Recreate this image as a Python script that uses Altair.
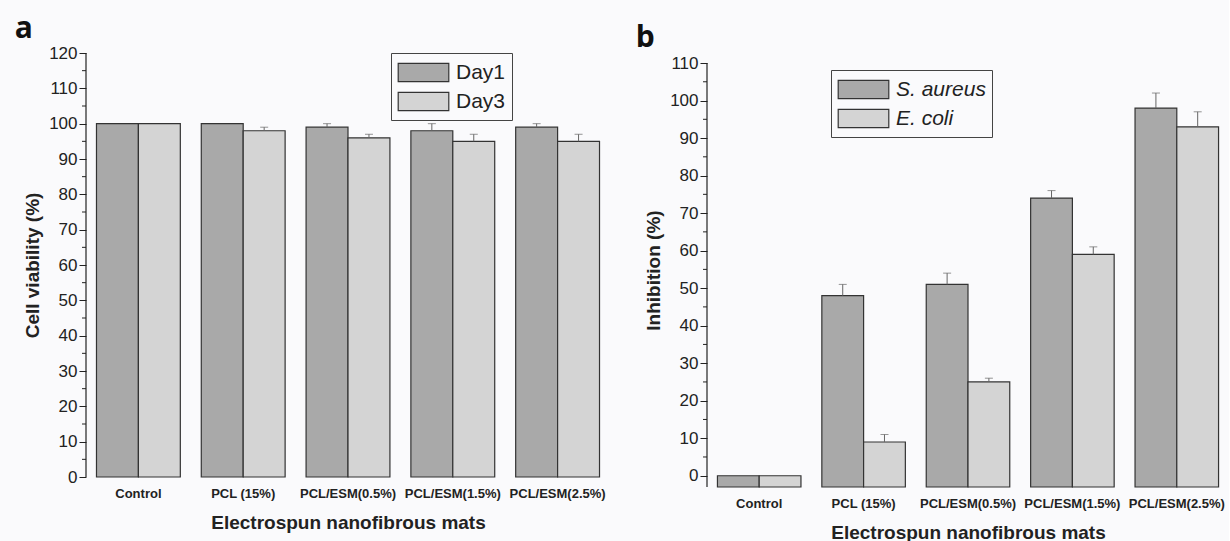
import altair as alt
import pandas as pd

categories = ["Control", "PCL (15%)", "PCL/ESM(0.5%)", "PCL/ESM(1.5%)", "PCL/ESM(2.5%)"]

# Panel a: cell viability
day1 = [100, 100, 99, 98, 99]
day1_err = [0, 0, 1, 2, 1]
day3 = [100, 98, 96, 95, 95]
day3_err = [0, 1, 1, 2, 2]

# Panel b: inhibition
s_aureus = [0, 48, 51, 74, 98]
s_aureus_err = [0, 3, 3, 2, 4]
e_coli = [0, 9, 25, 59, 93]
e_coli_err = [0, 2, 1, 2, 4]

a_major = list(range(0, 121, 10))
a_minor = list(range(5, 120, 10))
b_major = list(range(0, 111, 10))
b_minor = list(range(5, 110, 10))

FONT = "Liberation Sans"
DARK = "#a9a9a9"
LIGHT = "#d4d4d4"
EDGE = "#333333"


def make_df(names, vals, errs):
    rows = []
    for name, v, e in zip(names, vals, errs):
        for c, vv, ee in zip(categories, v, e):
            rows.append({"cat": c, "series": name, "value": vv, "err": ee})
    return pd.DataFrame(rows)


def panel(df, series, domain, axis_span, major, minor, ytitle, leg_x, leg_y, italic, label,
          width, height):
    base = alt.Chart(df)
    xscale = alt.Scale(type="band", domain=categories, paddingInner=0.2, paddingOuter=0.1)
    xaxis = alt.Axis(
        title="Electrospun nanofibrous mats", labelAngle=0, domain=False, ticks=False,
        labelFont=FONT, labelFontSize=13, labelFontWeight="bold", labelColor="#222",
        labelPadding=10, titleFont=FONT, titleFontSize=19, titleFontWeight="bold",
        titleColor="#222", titlePadding=13,
    )
    xenc = alt.X("cat:N", sort=categories, scale=xscale, axis=xaxis)
    xoff = alt.XOffset("series:N", sort=series,
                       scale=alt.Scale(type="band", domain=series, paddingInner=0, paddingOuter=0))
    yscale = alt.Scale(domain=domain, nice=False, zero=False)
    yaxis = alt.Axis(
        title=ytitle, values=major, grid=False, tickSize=7, tickColor="#222",
        domain=False, labelFont=FONT, labelFontSize=17, labelColor="#222",
        labelPadding=2, titleFont=FONT, titleFontSize=19, titleFontWeight="bold",
        titleColor="#222", titlePadding=6,
    )
    legend_kwargs = dict(
        title=None, orient="none", legendX=leg_x, legendY=leg_y,
        symbolType="M-2,-0.72H2V0.72H-2Z", symbolSize=640, symbolOffset=13,
        symbolStrokeColor=EDGE, symbolStrokeWidth=1.2,
        labelFont=FONT, labelFontSize=21, labelColor="#222", labelOffset=19,
        strokeColor="#444", padding=6, rowPadding=3, fillColor="#fafafc",
    )
    if italic:
        legend_kwargs["labelFontStyle"] = "italic"
    bars = base.mark_bar(stroke=EDGE, strokeWidth=1.2).encode(
        x=xenc,
        xOffset=xoff,
        y=alt.Y("value:Q", scale=yscale, axis=yaxis),
        y2=alt.datum(domain[0]),
        fill=alt.Fill("series:N", scale=alt.Scale(domain=series, range=[DARK, LIGHT]),
                      legend=alt.Legend(**legend_kwargs)),
    )
    err = base.transform_filter("datum.err > 0").transform_calculate(hi="datum.value + datum.err")
    rules = err.mark_rule(color="#666", strokeWidth=1).encode(
        x=xenc, xOffset=xoff, y=alt.Y("value:Q", scale=yscale, axis=yaxis), y2="hi:Q"
    )
    caps = err.mark_tick(color="#666", size=8, thickness=1).encode(
        x=xenc, xOffset=xoff, y=alt.Y("hi:Q", scale=yscale, axis=yaxis)
    )
    minor_df = pd.DataFrame({"m": minor})
    minors = alt.Chart(minor_df).mark_rule(color="#222", strokeWidth=1).encode(
        y=alt.Y("m:Q", scale=yscale, axis=yaxis), x=alt.value(-4), x2=alt.value(0)
    )
    span_df = pd.DataFrame({"lo": [axis_span[0]], "hi": [axis_span[1]]})
    axis_line = alt.Chart(span_df).mark_rule(color="#222", strokeWidth=1.2).encode(
        y=alt.Y("lo:Q", scale=yscale, axis=yaxis), y2="hi:Q", x=alt.value(0)
    )
    return alt.layer(bars, rules, caps, minors, axis_line).properties(
        width=width, height=height,
        title=alt.TitleParams(label, fontSize=30, fontWeight="bold", font="Open Sans",
                              anchor="start", dx=-9, offset=0, color="#111"),
    )


df_a = make_df(["Day1", "Day3"], [day1, day3], [day1_err, day3_err])
df_b = make_df(["S. aureus", "E. coli"], [s_aureus, e_coli], [s_aureus_err, e_coli_err])

pa = panel(df_a, ["Day1", "Day3"], [0, 120], [0, 120], a_major, a_minor, "Cell viability (%)",
           305, 0, False, "a", 524, 424)
pb = panel(df_b, ["S. aureus", "E. coli"], [-3, 112.67], [-3, 110], b_major, b_minor,
           "Inhibition (%)", 124, 17, True, "b", 522, 434)

chart = alt.hconcat(pa, pb, spacing=25).resolve_scale(
    fill="independent", y="independent", x="independent", xOffset="independent"
).properties(
    padding={"left": 14, "top": 14, "right": 0, "bottom": 0},
    background="#fafafc",
).configure_view(stroke=None)

chart.save("out.html", embed_options={"renderer": "svg", "actions": False})
